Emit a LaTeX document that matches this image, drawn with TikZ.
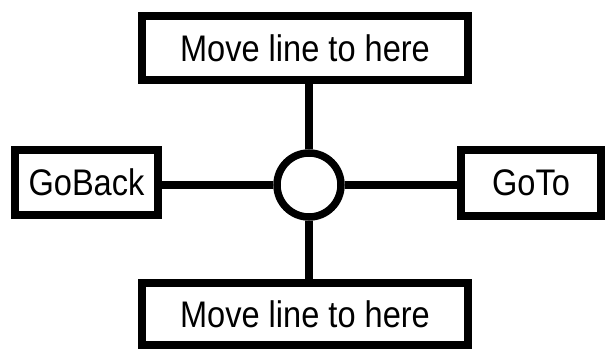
\documentclass[tikz,border=0pt]{standalone}
\usepackage{fontspec}
\setmainfont[FakeStretch=0.88]{Liberation Sans}
\begin{document}
\begin{tikzpicture}[x=1pt, y=1pt, line width=7.5pt,
  labelbox/.style={draw, inner sep=0pt, font=\fontsize{37}{42}\selectfont}]
  \useasboundingbox (0,0) rectangle (605,349);

  \node[labelbox, minimum width=326pt, minimum height=64pt] (top) at (305,301) {Move line to here};
  \node[labelbox, minimum width=326pt, minimum height=62pt] (bottom) at (305,35) {Move line to here};
  \node[labelbox, minimum width=143pt, minimum height=65pt] (back) at (86.5,166.5) {GoBack};
  \node[labelbox, minimum width=140pt, minimum height=66pt] (goto) at (531,166) {GoTo};
  \node[draw, circle, inner sep=0pt, minimum size=64pt] (hub) at (309,164) {};

  \draw (hub.north) -- (hub.north |- top.south);
  \draw (hub.south) -- (hub.south |- bottom.north);
  \draw (hub.west) -- (hub.west -| back.east);
  \draw (hub.east) -- (hub.east -| goto.west);

\end{tikzpicture}
\end{document}
